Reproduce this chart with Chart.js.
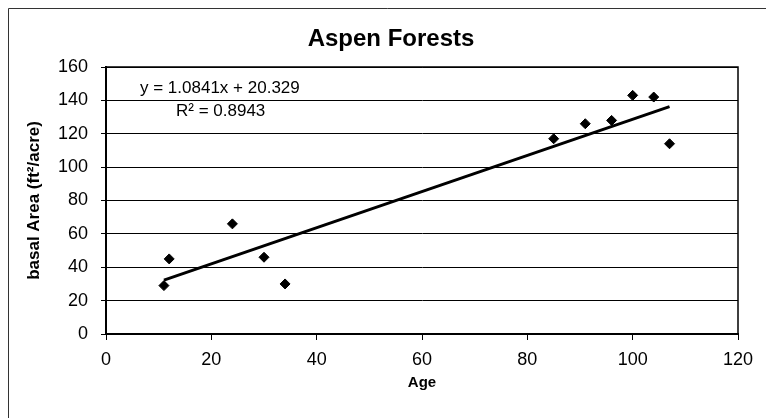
<!DOCTYPE html>
<html>
<head>
<meta charset="utf-8">
<script src="https://cdn.jsdelivr.net/npm/chart.js@4.4.1/dist/chart.umd.min.js"></script>
<style>
  html, body { margin: 0; padding: 0; background: #fff; }
  #wrap { width: 766px; height: 418px; }
</style>
</head>
<body>
<div id="wrap"><canvas id="myChart" width="766" height="418"></canvas></div>
<script>
// data
const ages = [11, 12, 24, 30, 34, 85, 91, 96, 100, 104, 107];
const basalArea = [29, 45, 66, 46, 30, 117, 126, 128, 143, 142, 114];
// trendline ends, as drawn (y = 1.0841x + 20.329)
const trendAges = [11, 107];
const trendValues = [32.3, 136.3];
const xTicks = [0, 20, 40, 60, 80, 100, 120];
const yTicks = [0, 20, 40, 60, 80, 100, 120, 140, 160];
const chartTitle = 'Aspen Forests';
const equationText = 'y = 1.0841x + 20.329';
const rSquaredText = 'R\u00b2 = 0.8943';

const FONT = 'Arial, "Liberation Sans", Helvetica, sans-serif';

// title, plot frame, outer border and the trendline label
const decorations = {
    id: 'decorations',
    afterDraw(chart) {
        const ctx = chart.ctx;
        const a = chart.chartArea;
        ctx.save();
        ctx.strokeStyle = '#000';
        ctx.lineWidth = 1.5;
        ctx.beginPath();
        ctx.moveTo(a.left, a.top);
        ctx.lineTo(a.right, a.top);
        ctx.lineTo(a.right, a.bottom);
        ctx.stroke();

        ctx.strokeStyle = '#333';
        ctx.lineWidth = 1;
        ctx.beginPath();
        ctx.moveTo(8.5, 418);
        ctx.lineTo(8.5, 8.5);
        ctx.lineTo(766, 8.5);
        ctx.stroke();

        ctx.fillStyle = '#000';
        ctx.textBaseline = 'middle';
        ctx.textAlign = 'center';
        ctx.font = 'bold 24px ' + FONT;
        ctx.fillText(chartTitle, 391, 39);

        ctx.font = '17px ' + FONT;
        ctx.textAlign = 'left';
        ctx.fillText(equationText, 140, 88);
        ctx.fillText(rSquaredText, 176, 111);
        ctx.restore();
    }
};

const ctx = document.getElementById('myChart').getContext('2d');
const chart = new Chart(ctx, {
    type: 'scatter',
    data: {
        datasets: [{
            label: 'Basal area',
            data: ages.map((x, i) => ({ x: x, y: basalArea[i] })),
            pointStyle: 'rectRot',
            pointRadius: 5,
            backgroundColor: '#000',
            borderColor: '#000',
            order: 1
        }, {
            label: 'Linear trend',
            type: 'line',
            data: trendAges.map((x, i) => ({ x: x, y: trendValues[i] })),
            borderColor: '#000',
            borderWidth: 3,
            pointRadius: 0,
            fill: false,
            order: 2
        }]
    },
    options: {
        responsive: false,
        animation: false,
        layout: { padding: { left: 8, right: 28, top: 67, bottom: 0 } },
        plugins: {
            legend: { display: false },
            tooltip: { enabled: false },
            title: { display: false }
        },
        scales: {
            x: {
                type: 'linear',
                min: 0,
                max: 120,
                afterBuildTicks: (scale) => { scale.ticks = xTicks.map(v => ({ value: v })) },
                afterFit: (scale) => { scale.height = 84 },
                ticks: { color: '#000', font: { family: FONT, size: 18 }, padding: 9, maxRotation: 0 },
                grid: { drawOnChartArea: false, drawTicks: true, tickLength: 6, color: '#000' },
                border: { color: '#000', width: 2 },
                title: {
                    display: true,
                    text: 'Age',
                    color: '#000',
                    font: { family: FONT, size: 15, weight: 'bold' },
                    padding: { bottom: 26 }
                }
            },
            y: {
                min: 0,
                max: 160,
                afterBuildTicks: (scale) => { scale.ticks = yTicks.map(v => ({ value: v })) },
                afterFit: (scale) => { scale.width = 98 },
                ticks: { color: '#000', font: { family: FONT, size: 18 }, padding: 13 },
                grid: { color: '#000', lineWidth: 1, tickLength: 5 },
                border: { color: '#000', width: 2 },
                title: {
                    display: true,
                    text: 'basal Area (ft\u00b2/acre)',
                    color: '#000',
                    font: { family: FONT, size: 17, weight: 'bold' },
                    padding: { top: 16 }
                }
            }
        }
    },
    plugins: [decorations]
});
</script>
</body>
</html>
